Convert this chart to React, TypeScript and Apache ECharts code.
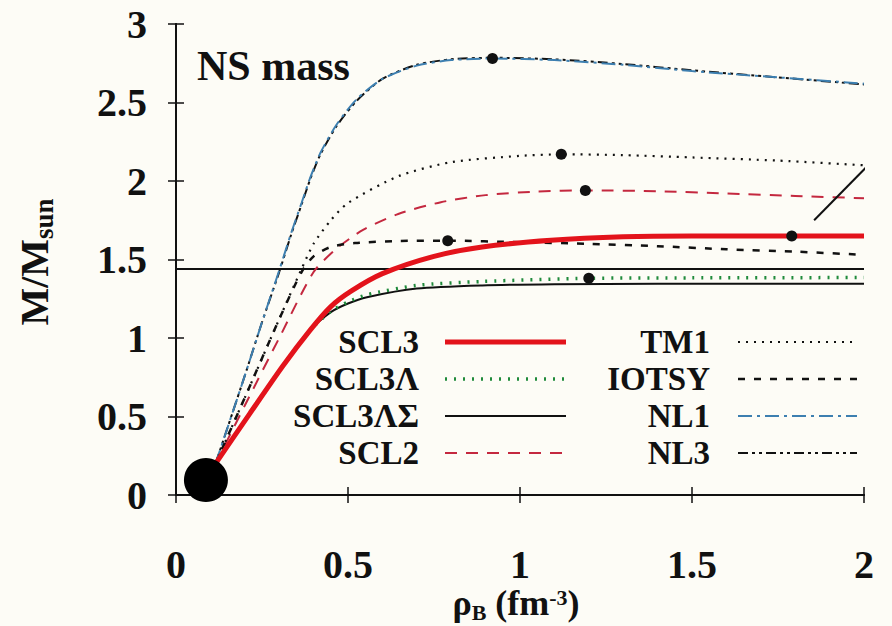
import React, { useEffect, useRef } from "react";
import * as echarts from "echarts";

// ---- data ----
const X_TICKS = [0, 0.5, 1, 1.5, 2];
const Y_TICKS = [0, 0.5, 1, 1.5, 2, 2.5, 3];

const NL1: number[][] = [
  [0.115, 0.2], [0.15, 0.43], [0.2, 0.76], [0.25, 1.1], [0.3, 1.43], [0.335, 1.67],
  [0.365, 1.86], [0.39, 2.02], [0.42, 2.18], [0.467, 2.36], [0.525, 2.52], [0.6, 2.65],
  [0.7, 2.735], [0.8, 2.77], [0.92, 2.78], [1.1, 2.77], [1.3, 2.74], [1.5, 2.7],
  [1.75, 2.66], [2.0, 2.62],
];
const NL3: number[][] = [
  [0.115, 0.2], [0.15, 0.43], [0.2, 0.76], [0.25, 1.1], [0.3, 1.42], [0.335, 1.66],
  [0.365, 1.85], [0.39, 2.01], [0.42, 2.17], [0.467, 2.35], [0.525, 2.51], [0.6, 2.65],
  [0.7, 2.74], [0.8, 2.775], [0.92, 2.785], [1.1, 2.775], [1.3, 2.745], [1.5, 2.705],
  [1.75, 2.66], [2.0, 2.615],
];
const TM1: number[][] = [
  [0.115, 0.2], [0.2, 0.62], [0.3, 1.12], [0.365, 1.44], [0.4, 1.6], [0.45, 1.75],
  [0.5, 1.86], [0.646, 2.03], [0.8, 2.12], [1.0, 2.16], [1.12, 2.17], [1.3, 2.165],
  [1.5, 2.15], [1.75, 2.13], [2.0, 2.1],
];
const IOTSY: number[][] = [
  [0.115, 0.2], [0.2, 0.62], [0.3, 1.12], [0.365, 1.42], [0.4, 1.52], [0.45, 1.58],
  [0.52, 1.605], [0.65, 1.618], [0.79, 1.62], [1.0, 1.61], [1.2, 1.6], [1.4, 1.585],
  [1.6, 1.565], [1.8, 1.55], [2.0, 1.53],
];
const SCL2: number[][] = [
  [0.115, 0.2], [0.2, 0.57], [0.3, 1.0], [0.4, 1.42], [0.467, 1.57], [0.545, 1.69],
  [0.646, 1.79], [0.77, 1.865], [0.9, 1.91], [1.05, 1.933], [1.19, 1.94], [1.4, 1.935],
  [1.6, 1.92], [1.8, 1.905], [2.0, 1.89],
];
const SCL3: number[][] = [
  [0.115, 0.2], [0.215, 0.52], [0.31, 0.82], [0.39, 1.05], [0.45, 1.2], [0.51, 1.3],
  [0.6, 1.41], [0.75, 1.52], [0.89, 1.58], [1.09, 1.623], [1.3, 1.645], [1.5, 1.65],
  [1.79, 1.65], [2.0, 1.65],
];
const SCL3L: number[][] = [
  [0.115, 0.2], [0.215, 0.52], [0.31, 0.82], [0.39, 1.05], [0.45, 1.17], [0.5, 1.23],
  [0.555, 1.275], [0.7, 1.335], [0.89, 1.36], [1.2, 1.38], [1.5, 1.383], [2.0, 1.385],
];
const SCL3LS: number[][] = [
  [0.115, 0.2], [0.215, 0.52], [0.31, 0.82], [0.39, 1.05], [0.45, 1.165], [0.5, 1.22],
  [0.555, 1.26], [0.7, 1.315], [0.89, 1.335], [1.1, 1.342], [1.4, 1.345], [2.0, 1.345],
];
const MAX_POINTS: number[][] = [
  [0.92, 2.78], [1.12, 2.17], [1.19, 1.94], [0.79, 1.62], [1.79, 1.65], [1.2, 1.38],
];
const MASS_LINE = 1.44;
const STRAY_LINE: number[][] = [[1.855, 1.75], [2.03, 2.14]];
const BIG_DOT: number[][] = [[0.087, 0.095]];

const LEGEND_LEFT = ["SCL3", "SCL3Λ", "SCL3ΛΣ", "SCL2"];
const LEGEND_RIGHT = ["TM1", "IOTSY", "NL1", "NL3"];

const FONT = "'Liberation Serif', 'Times New Roman', serif";

const STYLES: Record<string, { color: string; width: number; type: any; z: number }> = {
  SCL3: { color: "#e3131b", width: 5, type: "solid", z: 8 },
  "SCL3Λ": { color: "#1f8a3b", width: 3.5, type: [2, 7], z: 7 },
  "SCL3ΛΣ": { color: "#111111", width: 2, type: "solid", z: 6 },
  SCL2: { color: "#c4283f", width: 2, type: [12, 9], z: 5 },
  TM1: { color: "#111111", width: 2.2, type: [2, 6], z: 5 },
  IOTSY: { color: "#111111", width: 2.5, type: [7, 9], z: 5 },
  NL1: { color: "#3d7fb0", width: 2, type: [14, 5, 3, 5], z: 4 },
  NL3: { color: "#111111", width: 2, type: [10, 4, 3, 4, 3, 4], z: 3 },
};
const DATA: Record<string, number[][]> = {
  SCL3, "SCL3Λ": SCL3L, "SCL3ΛΣ": SCL3LS, SCL2, TM1, IOTSY, NL1, NL3,
};

export default function App() {
  const ref = useRef<HTMLDivElement>(null);
  useEffect(() => {
    document.body.style.margin = "0";
    const chart = echarts.init(ref.current!, null, { renderer: "svg" });

    const names = [...LEGEND_LEFT, ...LEGEND_RIGHT];
    const lineSeries = names.map((n) => ({
      name: n,
      type: "line",
      data: DATA[n],
      showSymbol: false,
      smooth: 0.25,
      z: STYLES[n].z,
      lineStyle: { color: STYLES[n].color, width: STYLES[n].width, type: STYLES[n].type },
    }));

    const rowsY = [342, 379, 416, 453];
    const legendGraphic: any[] = [];
    const addLegend = (list: string[], textRight: number, x1: number, x2: number) => {
      list.forEach((n, i) => {
        legendGraphic.push({
          type: "text",
          x: textRight,
          y: rowsY[i],
          style: {
            text: n,
            align: "right",
            verticalAlign: "middle",
            fontFamily: FONT,
            fontWeight: "bold",
            fontSize: 33,
            lineHeight: 30,
            fill: "#111",
          },
          z: 20,
        });
        legendGraphic.push({
          type: "line",
          shape: { x1, y1: rowsY[i], x2, y2: rowsY[i] },
          style: {
            stroke: STYLES[n].color,
            lineWidth: STYLES[n].width,
            lineDash: Array.isArray(STYLES[n].type) ? STYLES[n].type : null,
          },
          z: 20,
        });
      });
    };
    addLegend(LEGEND_LEFT, 419, 445, 566);
    addLegend(LEGEND_RIGHT, 710, 738, 857);

    const axisCommon = {
      type: "value",
      min: 0,
      axisLine: { show: true, lineStyle: { color: "#111", width: 2 } },
      axisTick: { show: true, inside: true, length: 8, lineStyle: { color: "#111", width: 1.5 } },
      splitLine: { show: false },
    };

    chart.setOption({
      animation: false,
      backgroundColor: "#fdfcf6",
      grid: { left: 176, right: 28, top: 24, bottom: 131, show: false },
      xAxis: [
        {
          ...axisCommon,
          max: 2,
          interval: 0.5,
          position: "bottom",
          axisLabel: {
            margin: 54,
            fontFamily: FONT,
            fontWeight: "bold",
            fontSize: 40,
            lineHeight: 30,
            color: "#111",
            formatter: (v: number) => (X_TICKS.includes(v) ? String(v) : ""),
          },
        },
        {
          ...axisCommon,
          max: 2,
          interval: 0.5,
          position: "top",
          axisLabel: { show: false },
        },
      ],
      yAxis: [
        {
          ...axisCommon,
          max: 3,
          interval: 0.5,
          position: "left",
          axisLabel: {
            margin: 29,
            fontFamily: FONT,
            fontWeight: "bold",
            fontSize: 40,
            color: "#111",
            formatter: (v: number) => (Y_TICKS.includes(v) ? String(v) : ""),
          },
        },
        {
          ...axisCommon,
          max: 3,
          interval: 0.5,
          position: "right",
          axisLabel: { show: false },
        },
      ],
      series: [
        ...lineSeries,
        {
          name: "limit",
          type: "line",
          data: [[0, MASS_LINE], [2, MASS_LINE]],
          showSymbol: false,
          z: 2,
          lineStyle: { color: "#111", width: 2 },
        },
        {
          name: "stray",
          type: "line",
          data: STRAY_LINE,
          showSymbol: false,
          clip: false,
          z: 9,
          lineStyle: { color: "#111", width: 2 },
        },
        {
          name: "max",
          type: "scatter",
          data: MAX_POINTS,
          symbolSize: 11,
          z: 10,
          itemStyle: { color: "#111", opacity: 1 },
        },
        {
          name: "dot",
          type: "scatter",
          data: BIG_DOT,
          symbolSize: 44,
          clip: false,
          z: 11,
          itemStyle: { color: "#000", opacity: 1 },
        },
      ],
      graphic: [
        ...legendGraphic,
        {
          type: "text",
          x: 197,
          y: 66,
          style: {
            text: "NS mass",
            verticalAlign: "middle",
            fontFamily: FONT,
            fontWeight: "bold",
            fontSize: 42,
            fill: "#111",
          },
          z: 20,
        },
        {
          type: "text",
          x: 34,
          y: 262,
          rotation: Math.PI / 2,
          style: {
            text: "{m|M/M}{s|sun}",
            align: "center",
            verticalAlign: "middle",
            rich: {
              m: { fontFamily: FONT, fontWeight: "bold", fontSize: 40, fill: "#111", lineHeight: 40, verticalAlign: "top" },
              s: { fontFamily: FONT, fontWeight: "bold", fontSize: 27, fill: "#111", lineHeight: 27, padding: [20, 0, 0, 0] },
            },
          },
          z: 20,
        },
        {
          type: "text",
          x: 516,
          y: 603,
          style: {
            text: "{r|ρ}{b|B}{r| (fm}{p|-3}{r|)}",
            align: "center",
            verticalAlign: "middle",
            rich: {
              r: { fontFamily: FONT, fontWeight: "bold", fontSize: 36, fill: "#111", lineHeight: 36, verticalAlign: "top" },
              b: { fontFamily: FONT, fontWeight: "bold", fontSize: 22, fill: "#111", lineHeight: 22, padding: [18, 0, 0, 0] },
              p: { fontFamily: FONT, fontWeight: "bold", fontSize: 22, fill: "#111", lineHeight: 22, padding: [0, 0, 12, 0] },
            },
          },
          z: 20,
        },
      ],
    });
    return () => chart.dispose();
  }, []);
  return (
    <div
      ref={ref}
      style={{ position: "fixed", left: 0, top: 0, width: 892, height: 626 }}
    />
  );
}
